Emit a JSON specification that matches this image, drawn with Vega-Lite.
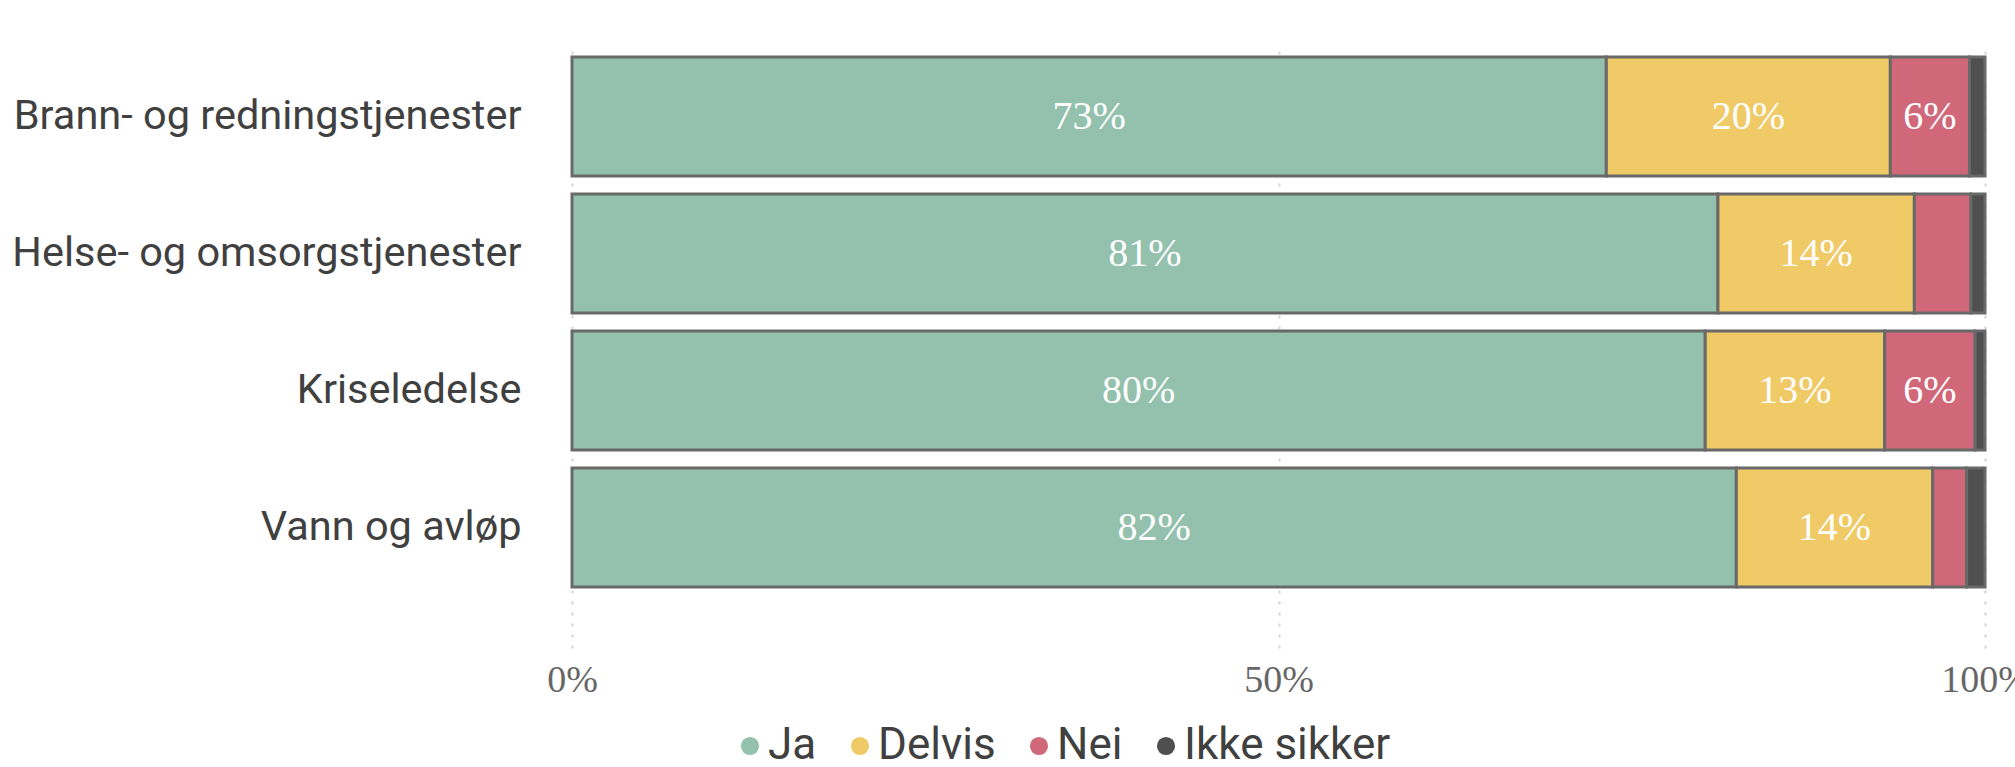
{
  "$schema": "https://vega.github.io/schema/vega-lite/v6.json",
  "autosize": "none",
  "width": 1413,
  "height": 605,
  "padding": {"left": 572, "top": 43, "right": 30, "bottom": 119},
  "background": "white",
  "config": {"view": {"stroke": null}},
  "data": {"values": [
    {"tjeneste": "Brann- og redningstjenester", "svar": "Ja", "andel": 0.732},
    {"tjeneste": "Brann- og redningstjenester", "svar": "Delvis", "andel": 0.201},
    {"tjeneste": "Brann- og redningstjenester", "svar": "Nei", "andel": 0.056},
    {"tjeneste": "Brann- og redningstjenester", "svar": "Ikke sikker", "andel": 0.011},
    {"tjeneste": "Helse- og omsorgstjenester", "svar": "Ja", "andel": 0.811},
    {"tjeneste": "Helse- og omsorgstjenester", "svar": "Delvis", "andel": 0.139},
    {"tjeneste": "Helse- og omsorgstjenester", "svar": "Nei", "andel": 0.040},
    {"tjeneste": "Helse- og omsorgstjenester", "svar": "Ikke sikker", "andel": 0.010},
    {"tjeneste": "Kriseledelse", "svar": "Ja", "andel": 0.802},
    {"tjeneste": "Kriseledelse", "svar": "Delvis", "andel": 0.127},
    {"tjeneste": "Kriseledelse", "svar": "Nei", "andel": 0.064},
    {"tjeneste": "Kriseledelse", "svar": "Ikke sikker", "andel": 0.007},
    {"tjeneste": "Vann og avløp", "svar": "Ja", "andel": 0.824},
    {"tjeneste": "Vann og avløp", "svar": "Delvis", "andel": 0.139},
    {"tjeneste": "Vann og avløp", "svar": "Nei", "andel": 0.024},
    {"tjeneste": "Vann og avløp", "svar": "Ikke sikker", "andel": 0.013}
  ]},
  "transform": [
    {"calculate": "indexof(['Ja','Delvis','Nei','Ikke sikker'], datum.svar)", "as": "rekkefolge"},
    {"stack": "andel", "groupby": ["tjeneste"], "sort": [{"field": "rekkefolge", "order": "ascending"}], "as": ["x0", "x1"]},
    {"calculate": "(datum.x0 + datum.x1) / 2", "as": "xmid"}
  ],
  "encoding": {
    "y": {
      "field": "tjeneste",
      "type": "nominal",
      "sort": ["Brann- og redningstjenester", "Helse- og omsorgstjenester", "Kriseledelse", "Vann og avløp"],
      "scale": {"paddingInner": 0.131, "paddingOuter": 0.2735, "align": 0.187},
      "axis": {
        "title": null,
        "domain": false,
        "ticks": false,
        "grid": false,
        "labelPadding": 51,
        "labelFont": "Roboto",
        "labelFontSize": 41.5,
        "labelColor": "#404040",
        "labelLimit": 700
      }
    }
  },
  "layer": [
    {
      "mark": {"type": "bar", "stroke": "#696969", "strokeWidth": 3},
      "encoding": {
        "x": {
          "field": "x0",
          "type": "quantitative",
          "scale": {"domain": [0, 1], "nice": false},
          "axis": {
            "title": null,
            "values": [0, 0.5, 1],
            "format": ".0%",
            "domain": false,
            "ticks": false,
            "grid": true,
            "gridColor": "#d4d4d4",
            "gridDash": [3, 8],
            "gridWidth": 2,
            "labelFlush": false,
            "labelPadding": 13,
            "labelFont": "Liberation Serif",
            "labelFontSize": 38,
            "labelColor": "#666666"
          }
        },
        "x2": {"field": "x1"},
        "color": {
          "field": "svar",
          "type": "nominal",
          "sort": ["Ja", "Delvis", "Nei", "Ikke sikker"],
          "scale": {
            "domain": ["Ja", "Delvis", "Nei", "Ikke sikker"],
            "range": ["#93C1AD", "#F0CA66", "#D0687A", "#4F4F4F"]
          },
          "legend": {
            "title": null,
            "orient": "none",
            "direction": "horizontal",
            "legendX": 156,
            "legendY": 681,
            "symbolType": "circle",
            "symbolSize": 330,
            "symbolStrokeWidth": 0,
            "symbolOpacity": 1,
            "labelFont": "Roboto",
            "labelFontSize": 44,
            "labelColor": "#404040",
            "labelLimit": 600,
            "labelOffset": -4,
            "columnPadding": 21,
            "symbolOffset": 0
          }
        }
      }
    },
    {
      "mark": {"type": "text", "color": "white", "font": "Liberation Serif", "fontSize": 40, "baseline": "middle", "align": "center"},
      "encoding": {
        "x": {"field": "xmid", "type": "quantitative"},
        "text": {
          "condition": {"test": "datum.andel < 0.05", "value": ""},
          "field": "andel",
          "type": "quantitative",
          "format": ".0%"
        }
      }
    }
  ]
}
